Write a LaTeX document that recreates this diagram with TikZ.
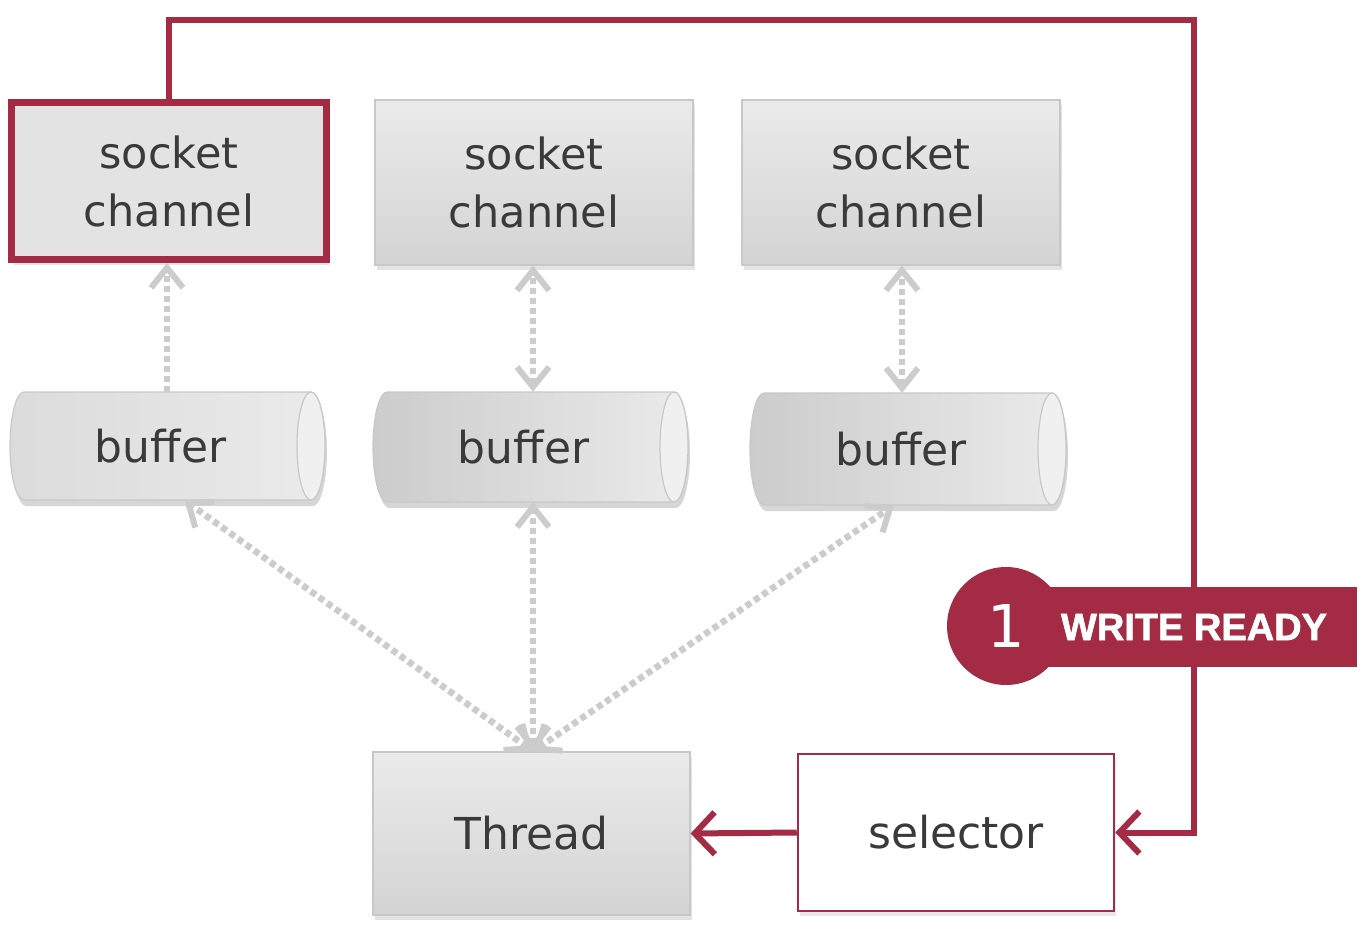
\documentclass[tikz,border=0pt]{standalone}
\usepackage{fontspec}
\setmainfont{DejaVu Sans}
\newfontfamily\badgefont{Liberation Sans}[BoldFeatures={FakeBold=1.6}]
\usetikzlibrary{arrows.meta,shadows,backgrounds}
\definecolor{accent}{RGB}{163,44,68}
\definecolor{txt}{RGB}{58,58,58}
\definecolor{dashgray}{RGB}{204,204,204}
\definecolor{boxedge}{RGB}{200,200,200}

\tikzset{
  graytip/.tip={Straight Barb[length=20pt,width=32pt,line width=6pt]},
  redtip/.tip={Straight Barb[length=20pt,width=42pt,line width=6pt]}
}

% cylinder body: x0, y0, x1, y1, left colour, right colour
\newcommand\cylbody[6]{%
  \pgfmathsetmacro\cry{(#4-#2)/2}%
  \pgfmathsetmacro\cyc{(#2+#4)/2}%
  \fill[black,opacity=0.16] (#1+16,#2+6) -- (#3-12,#2+6) arc(-90:90:14 and \cry) -- (#1+16,#4+6) arc(90:270:14 and \cry) -- cycle;
  \path[draw=boxedge,line width=1.2pt,left color=#5,right color=#6] (#1+14,#2) -- (#3-14,#2) arc(-90:90:14 and \cry) -- (#1+14,#4) arc(90:270:14 and \cry) -- cycle;
  \path[draw=boxedge,line width=1.2pt,fill=white!94!black] (#3-14,\cyc) ellipse (14 and \cry);
}

\begin{document}
\begin{tikzpicture}[x=1pt,y=-1pt,
  txtfont/.style={font=\fontsize{43}{58}\selectfont, text=txt},
  sockbox/.style={rectangle, draw=boxedge, line width=1.2pt, inner sep=0pt,
    minimum width=318pt, minimum height=165pt, align=center, txtfont,
    top color=white!92!black, bottom color=white!83!black,
    drop shadow={opacity=0.22, shadow xshift=2pt, shadow yshift=-5pt}},
  hotbox/.style={rectangle, draw=accent, line width=7pt, inner sep=0pt,
    minimum width=315pt, minimum height=157pt, align=center, txtfont,
    fill=white!89!black,
    drop shadow={opacity=0.22, shadow xshift=2pt, shadow yshift=-5pt}},
  bufnode/.style={rectangle, draw=none, inner sep=0pt, font=\fontsize{44}{58}\selectfont, text=txt},
  selbox/.style={rectangle, draw=accent, line width=2.5pt, inner sep=0pt,
    minimum width=316pt, minimum height=157pt, fill=white, txtfont,
    drop shadow={opacity=0.18, shadow xshift=2pt, shadow yshift=-5pt}},
  dashlink/.style={draw=dashgray, line width=6.5pt, dash pattern=on 6pt off 4pt},
  redline/.style={draw=accent, line width=6pt}
]
\useasboundingbox[fill=white] (0,0) rectangle (1366,934);

% buffers (cylinder bodies)
\cylbody{10}{392}{325}{500}{white!86!black}{white!92!black}
\cylbody{373}{392}{688}{502}{white!80!black}{white!92!black}
\cylbody{750}{393}{1066}{505}{white!80!black}{white!92!black}

% nodes
\node[hotbox]  (sc1) at (169,181)   {socket\\channel};
\node[sockbox] (sc2) at (534,182.5) {socket\\channel};
\node[sockbox] (sc3) at (901,182.5) {socket\\channel};

\node[bufnode, minimum width=315pt, minimum height=108pt] (b1) at (167.5,446) {\hspace*{-14pt}buffer};
\node[bufnode, minimum width=315pt, minimum height=110pt] (b2) at (530.5,447) {\hspace*{-14pt}buffer};
\node[bufnode, minimum width=316pt, minimum height=112pt] (b3) at (908,449)  {\hspace*{-14pt}buffer};

\node[sockbox, minimum width=317pt, minimum height=163pt, font=\fontsize{44}{58}\selectfont] (th) at (531.5,833.5) {Thread};
\node[selbox, font=\fontsize{44}{58}\selectfont] (sel) at (956,832.5) {selector};

% dashed links
\draw[dashlink, -{graytip}] (b1.north -| 167,0) -- (sc1.south -| 167,0);
\draw[dashlink, {graytip}-{graytip}] (b2.north -| 533,0) -- (sc2.south -| 533,0);
\draw[dashlink, {graytip}-{graytip}] (b3.north -| 902,0) -- (sc3.south -| 902,0);

\coordinate (thtop) at (th.north -| 533,0);
\draw[dashlink, {graytip}-{graytip}] (thtop) -- ([xshift=17pt]b1.south);
\draw[dashlink, {graytip}-{graytip}] (thtop) -- (b2.south -| 533,0);
\draw[dashlink, {graytip}-{graytip}] (thtop) -- ([xshift=-14pt]b3.south);

% red loop
\coordinate (tr) at (1194,20);
\draw[redline, -{redtip}] (sc1.north) |- (tr) |- (sel.east);
\draw[redline, -{redtip}] (sel.west) -- (th.east);

% badge
\fill[accent] (1006,587) rectangle (1357,667);
\node[circle, fill=accent, minimum size=118pt, inner sep=0pt,
  font=\fontsize{59}{59}\selectfont, text=white] (badge) at (1006,626) {1};
\node[font=\badgefont\bfseries\fontsize{38}{38}\selectfont, text=white, inner sep=0pt]
  (wr) at (1194,627) {WRITE READY};
\end{tikzpicture}
\end{document}
